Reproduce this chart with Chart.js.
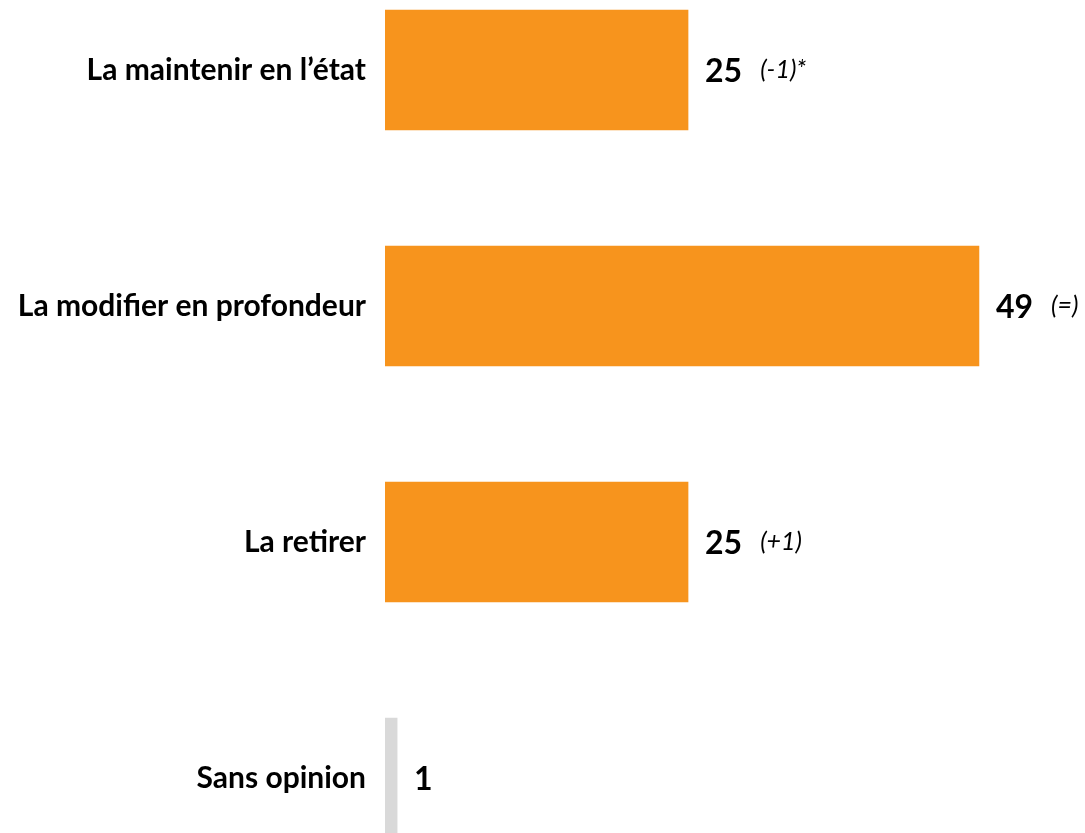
<!DOCTYPE html>
<html><head><meta charset="utf-8">
<script src="https://cdn.jsdelivr.net/npm/chart.js@4/dist/chart.umd.min.js"></script>
<style>
html,body{margin:0;padding:0;background:#fff;overflow:hidden;}
#wrap{position:relative;width:1085px;height:833px;overflow:hidden;}
#box{position:absolute;left:0;top:-48px;width:1085px;height:944px;}
</style></head><body>
<div id="wrap"><div id="box"><canvas id="c" width="1085" height="944"></canvas></div></div>
<script>
const categories = ["La maintenir en l’état", "La modifier en profondeur", "La retirer", "Sans opinion"];
const values = [25, 49, 25, 1];
const changes = ["(-1)*", "(=)", "(+1)", ""];
const barColors = ["#F7941D", "#F7941D", "#F7941D", "#D9D9D9"];

const FONT = "Lato, 'Open Sans', sans-serif";

const labelPlugin = {
  id: 'valueLabels',
  afterDatasetsDraw(chart) {
    const ctx = chart.ctx;
    const meta = chart.getDatasetMeta(0);
    ctx.save();
    meta.data.forEach((bar, i) => {
      const x = bar.x + 17;
      const y = bar.y;
      ctx.textBaseline = 'middle';
      ctx.textAlign = 'left';
      ctx.fillStyle = '#000';
      ctx.font = "bold 32px " + FONT;
      const t = String(values[i]);
      ctx.fillText(t, x, y + 2);
      const w = ctx.measureText(t).width;
      if (changes[i]) {
        ctx.font = "italic 25px " + FONT;
        ctx.fillText(changes[i], x + w + 18, y);
      }
    });
    ctx.restore();
  }
};

new Chart(document.getElementById('c'), {
  type: 'bar',
  data: {
    labels: categories,
    datasets: [{
      data: values,
      backgroundColor: barColors,
      borderWidth: 0,
      barThickness: 120
    }]
  },
  options: {
    indexAxis: 'y',
    responsive: false,
    animation: false,
    layout: { padding: 0 },
    plugins: { legend: { display: false }, tooltip: { enabled: false } },
    scales: {
      x: { display: false, min: 0, max: 57.75 },
      y: {
        grid: { display: false, drawTicks: false },
        border: { display: false },
        ticks: {
          color: '#000',
          font: { family: FONT, size: 30, weight: 'bold' },
          padding: 19
        },
        afterFit(scale) {
          scale.width = 385;
          scale.paddingTop = 0;
          scale.paddingBottom = 0;
        }
      }
    }
  },
  plugins: [labelPlugin]
});
</script>
</body></html>
